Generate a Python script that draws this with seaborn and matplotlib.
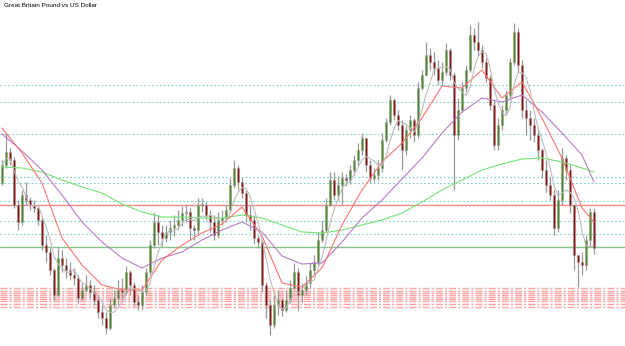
import numpy as np
import pandas as pd
import matplotlib
matplotlib.use("Agg")
import matplotlib.pyplot as plt
import seaborn as sns

# --- candle data (GBP/USD) ---
first_open = 1.3017
close = [1.3035, 1.3048, 1.3040, 1.2995, 1.2978, 1.3005, 1.3000, 1.2995, 1.2992, 1.2980,
         1.2955, 1.2948, 1.2930, 1.2905, 1.2942, 1.2935, 1.2930, 1.2925, 1.2922, 1.2902,
         1.2910, 1.2915, 1.2908, 1.2900, 1.2888, 1.2882, 1.2872, 1.2895, 1.2902, 1.2910,
         1.2908, 1.2928, 1.2915, 1.2898, 1.2895, 1.2908, 1.2928, 1.2955, 1.2978, 1.2968,
         1.2962, 1.2968, 1.2972, 1.2975, 1.2980, 1.2987, 1.2988, 1.2972, 1.2970, 1.2995,
         1.2995, 1.2985, 1.2978, 1.2965, 1.2980, 1.2982, 1.2990, 1.3015, 1.3032, 1.3018,
         1.3007, 1.2985, 1.2980, 1.2962, 1.2958, 1.2915, 1.2895, 1.2875, 1.2895, 1.2900,
         1.2890, 1.2900, 1.2912, 1.2928, 1.2905, 1.2910, 1.2917, 1.2930, 1.2938, 1.2960,
         1.2970, 1.2995, 1.3020, 1.3005, 1.3015, 1.3022, 1.3020, 1.3030, 1.3040, 1.3050,
         1.3062, 1.3035, 1.3022, 1.3025, 1.3032, 1.3060, 1.3078, 1.3100, 1.3085, 1.3075,
         1.3050, 1.3070, 1.3080, 1.3065, 1.3112, 1.3125, 1.3145, 1.3138, 1.3132, 1.3120,
         1.3128, 1.3150, 1.3125, 1.3065, 1.3090, 1.3112, 1.3130, 1.3165, 1.3158, 1.3150,
         1.3138, 1.3122, 1.3095, 1.3055, 1.3075, 1.3090, 1.3105, 1.3138, 1.3168, 1.3135,
         1.3090, 1.3082, 1.3075, 1.3065, 1.3050, 1.3030, 1.3015, 1.3005, 1.2972, 1.3000,
         1.3042, 1.3030, 1.2995, 1.2945, 1.2938, 1.2935, 1.2960, 1.2988, 1.2952]
high = [1.3040, 1.3067, 1.3052, 1.3043, 1.3000, 1.3010, 1.3018, 1.3003, 1.3000, 1.2995,
        1.2982, 1.2965, 1.2952, 1.2932, 1.2952, 1.2950, 1.2942, 1.2938, 1.2932, 1.2925,
        1.2917, 1.2925, 1.2920, 1.2915, 1.2905, 1.2895, 1.2888, 1.2902, 1.2910, 1.2920,
        1.2922, 1.2934, 1.2930, 1.2918, 1.2905, 1.2915, 1.2932, 1.2960, 1.2988, 1.2985,
        1.2975, 1.2975, 1.2980, 1.2985, 1.2990, 1.2994, 1.2995, 1.2993, 1.2975, 1.3002,
        1.3002, 1.2998, 1.2990, 1.2985, 1.2988, 1.2990, 1.2995, 1.3022, 1.3040, 1.3035,
        1.3022, 1.3010, 1.2995, 1.2985, 1.2965, 1.2960, 1.2918, 1.2900, 1.2905, 1.2910,
        1.2902, 1.2910, 1.2920, 1.2937, 1.2932, 1.2917, 1.2924, 1.2938, 1.2945, 1.2968,
        1.2980, 1.3002, 1.3028, 1.3028, 1.3024, 1.3028, 1.3026, 1.3035, 1.3045, 1.3057,
        1.3067, 1.3062, 1.3040, 1.3032, 1.3040, 1.3067, 1.3082, 1.3105, 1.3102, 1.3090,
        1.3080, 1.3075, 1.3085, 1.3082, 1.3118, 1.3130, 1.3158, 1.3152, 1.3148, 1.3140,
        1.3138, 1.3157, 1.3152, 1.3128, 1.3102, 1.3118, 1.3135, 1.3175, 1.3172, 1.3178,
        1.3155, 1.3142, 1.3125, 1.3100, 1.3082, 1.3095, 1.3110, 1.3142, 1.3177, 1.3172,
        1.3140, 1.3100, 1.3090, 1.3082, 1.3070, 1.3052, 1.3040, 1.3023, 1.3010, 1.3010,
        1.3052, 1.3045, 1.3035, 1.2995, 1.2945, 1.2948, 1.2965, 1.2992, 1.2992]
low = [1.3015, 1.3032, 1.3035, 1.2992, 1.2970, 1.2975, 1.2995, 1.2990, 1.2988, 1.2975,
       1.2950, 1.2938, 1.2925, 1.2900, 1.2904, 1.2928, 1.2922, 1.2920, 1.2915, 1.2897,
       1.2900, 1.2908, 1.2902, 1.2895, 1.2882, 1.2875, 1.2866, 1.2870, 1.2892, 1.2895,
       1.2900, 1.2905, 1.2905, 1.2894, 1.2890, 1.2890, 1.2905, 1.2925, 1.2952, 1.2955,
       1.2954, 1.2958, 1.2960, 1.2964, 1.2970, 1.2974, 1.2978, 1.2960, 1.2960, 1.2965,
       1.2988, 1.2980, 1.2968, 1.2960, 1.2962, 1.2975, 1.2978, 1.2988, 1.3012, 1.3010,
       1.3002, 1.2978, 1.2970, 1.2956, 1.2952, 1.2908, 1.2882, 1.2865, 1.2872, 1.2885,
       1.2884, 1.2888, 1.2897, 1.2910, 1.2890, 1.2898, 1.2905, 1.2912, 1.2925, 1.2935,
       1.2958, 1.2968, 1.2994, 1.3000, 1.3000, 1.2995, 1.3014, 1.3016, 1.3025, 1.3035,
       1.3045, 1.3028, 1.3017, 1.3018, 1.3020, 1.3028, 1.3058, 1.3075, 1.3080, 1.3070,
       1.3030, 1.3045, 1.3062, 1.3058, 1.3062, 1.3110, 1.3125, 1.3130, 1.3125, 1.3115,
       1.3115, 1.3125, 1.3120, 1.3010, 1.3060, 1.3088, 1.3108, 1.3128, 1.3150, 1.3144,
       1.3132, 1.3118, 1.3090, 1.3050, 1.3050, 1.3070, 1.3085, 1.3102, 1.3135, 1.3128,
       1.3082, 1.3065, 1.3060, 1.3058, 1.3040, 1.3022, 1.3008, 1.3000, 1.2965, 1.2968,
       1.2995, 1.3020, 1.2987, 1.2930, 1.2913, 1.2925, 1.2930, 1.2955, 1.2946]

# --- slow moving averages, read every 5 bars ---
ma_idx = list(range(0, 146, 5)) + [148]
ma_red = [1.3072, 1.3047, 1.3017, 1.2962, 1.2935, 1.2915, 1.2910, 1.2910, 1.2940, 1.2955,
          1.2967, 1.2976, 1.2993, 1.2964, 1.2917, 1.2913, 1.2932, 1.2975, 1.3010, 1.3038,
          1.3057, 1.3082, 1.3114, 1.3112, 1.3130, 1.3102, 1.3118, 1.3082, 1.3042, 1.2992, 1.2978]
ma_purple = [1.3066, 1.3049, 1.3030, 1.3005, 1.2978, 1.2958, 1.2942, 1.2932, 1.2942, 1.2948,
             1.2960, 1.2970, 1.2978, 1.2968, 1.2944, 1.2936, 1.2937, 1.2958, 1.2982, 1.3000,
             1.3021, 1.3042, 1.3067, 1.3088, 1.3102, 1.3098, 1.3105, 1.3088, 1.3067, 1.3045, 1.3018]
ma_green = [1.3033, 1.3032, 1.3028, 1.3020, 1.3013, 1.3007, 1.2996, 1.2988, 1.2983, 1.2983,
            1.2982, 1.2982, 1.2985, 1.2982, 1.2975, 1.2968, 1.2967, 1.2970, 1.2975, 1.2980,
            1.2987, 1.2998, 1.3010, 1.3020, 1.3030, 1.3036, 1.3041, 1.3042, 1.3038, 1.3032, 1.3028]

# --- horizontal levels ---
levels_teal = [1.3115, 1.3098, 1.3066, 1.3023, 1.3017, 1.2999, 1.2979, 1.2966]
level_red = 1.2995
level_green = 1.2953
levels_dashdot = [1.2912, 1.2909, 1.2907, 1.2905, 1.2903, 1.2901, 1.2899, 1.2896, 1.2893]

title = "Great Britain Pound vs US Dollar"

df = pd.DataFrame({"close": close, "high": high, "low": low})
df["open"] = [first_open] + close[:-1]
df["bar"] = np.arange(len(df))
df["fast"] = df["close"].rolling(5, min_periods=1).mean()
ma = pd.DataFrame({"bar": ma_idx, "red": ma_red, "purple": ma_purple, "green": ma_green})

sns.set_style("white")
fig = plt.figure(figsize=(6.25, 3.46), dpi=100)
ax = fig.add_axes([0, 0, 1, 1])

for y in levels_teal:
    ax.axhline(y, color="#7ccccc", lw=0.8, ls=(0, (1.5, 2)), zorder=1)
ax.axhline(level_red, color="#f28a8a", lw=1.0, zorder=1)
ax.axhline(level_green, color="#86c486", lw=1.0, zorder=1)
for y in levels_dashdot:
    ax.axhline(y, color="#ffa3a3", lw=1.0, ls=(0, (5, 1.5, 1.5, 1.5)), zorder=1)

# candles
up = df["close"] >= df["open"]
ax.vlines(df["bar"], df["low"], df["high"], color="#999999", lw=0.9, zorder=2)
body_bot = df[["open", "close"]].min(axis=1)
body_h = (df["close"] - df["open"]).abs().clip(lower=0.00008)
ax.bar(df["bar"][up], body_h[up], bottom=body_bot[up], width=0.62,
       color="#4b8a1c", edgecolor="#a0a0a0", lw=0.4, zorder=3)
ax.bar(df["bar"][~up], body_h[~up], bottom=body_bot[~up], width=0.62,
       color="#8b0a0a", edgecolor="#a0a0a0", lw=0.4, zorder=3)

# moving averages
sns.lineplot(data=ma, x="bar", y="green", color="#74e274", lw=0.8, ax=ax, zorder=4)
sns.lineplot(data=ma, x="bar", y="purple", color="#b77cc6", lw=0.8, ax=ax, zorder=4)
sns.lineplot(data=ma, x="bar", y="red", color="#ff7272", lw=0.8, ax=ax, zorder=4)
sns.lineplot(data=df, x="bar", y="fast", color="#bdbdbd", lw=0.8, ax=ax, zorder=4)

ax.set_xlim(-0.5, 155.75)
ax.set_ylim(1.2854, 1.3200)
ax.set_axis_off()

fig.text(0.007, 0.99, title, fontsize=4.6, va="top", ha="left",
         family=["Liberation Sans", "DejaVu Sans"], color="#000000")

fig.savefig("out.png", dpi=100)
